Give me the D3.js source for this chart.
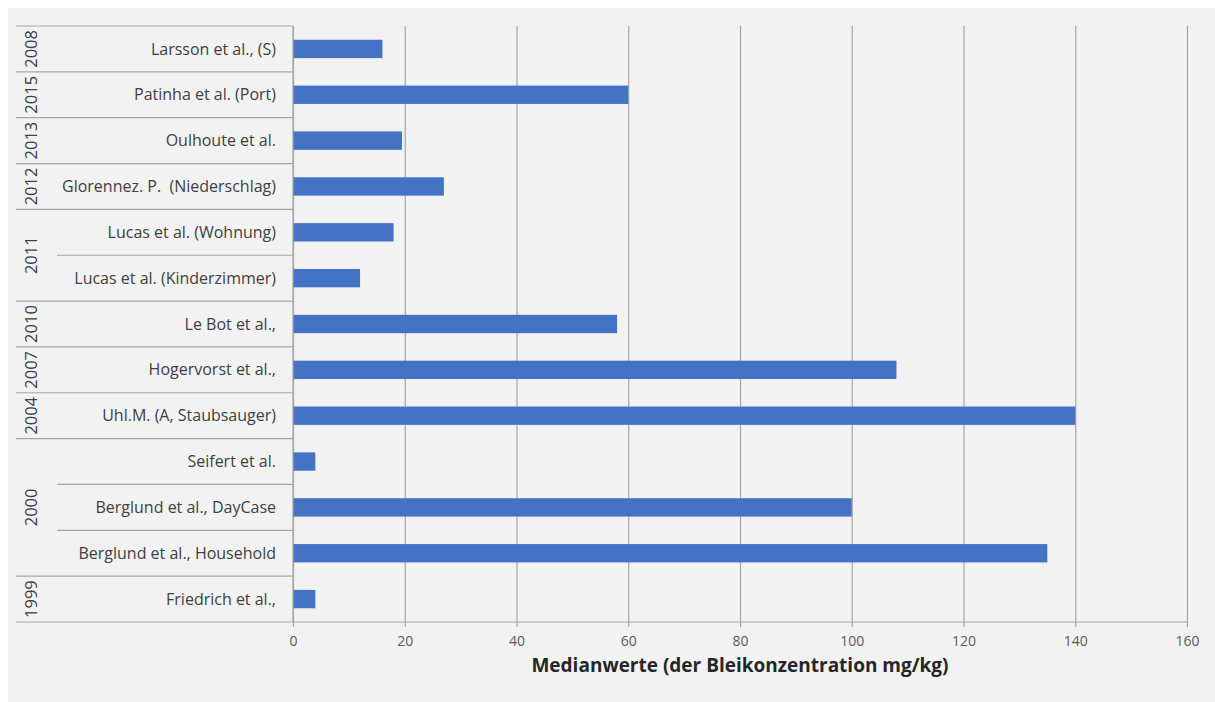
<!DOCTYPE html>
<html>
<head>
<meta charset="utf-8">
<script src="https://cdn.jsdelivr.net/npm/d3@7"></script>
<style>
  html, body { margin: 0; padding: 0; background: #ffffff; }
  svg { display: block; }
  text { white-space: pre; }
</style>
</head>
<body>
<svg id="chart" width="1215" height="702"></svg>
<script>
// ---- data ----
const categories = [
  "Larsson et al., (S)",
  "Patinha et al. (Port)",
  "Oulhoute et al.",
  "Glorennez. P.  (Niederschlag)",
  "Lucas et al. (Wohnung)",
  "Lucas et al. (Kinderzimmer)",
  "Le Bot et al.,",
  "Hogervorst et al.,",
  "Uhl.M. (A, Staubsauger)",
  "Seifert et al.",
  "Berglund et al., DayCase",
  "Berglund et al., Household",
  "Friedrich et al.,"
];
const years = ["2008","2015","2013","2012","2011","2011","2010","2007","2004","2000","2000","2000","1999"];
const values = [16, 60, 19.5, 27, 18, 12, 58, 108, 140, 4, 100, 135, 4];
const xTicks = [0, 20, 40, 60, 80, 100, 120, 140, 160];
const xTitle = "Medianwerte (der Bleikonzentration mg/kg)";

// ---- layout ----
const svg = d3.select("#chart");
const W = 1215, H = 702;
const plot = { left: 293, right: 1187, top: 26, bottom: 622 };
const outerLeft = 16, innerLeft = 57;
const font = "'Open Sans', 'Noto Sans', sans-serif";

svg.append("rect").attr("x", 8).attr("y", 8).attr("width", W - 8).attr("height", H - 8).attr("fill", "#f2f2f2");

const x = d3.scaleLinear().domain([0, 160]).range([plot.left, plot.right]);
const y = d3.scaleBand().domain(categories).range([plot.top, plot.bottom])
  .paddingInner(0.6).paddingOuter(0.3);
const step = y.step();
const rowTop = c => y(c) - step * 0.3;

// gridlines
const grid = svg.append("g").attr("transform", `translate(0,${plot.top})`)
  .call(d3.axisBottom(x).tickValues(xTicks).tickSize(plot.bottom - plot.top + 5).tickFormat(""));
grid.select(".domain").remove();
grid.selectAll(".tick line").attr("stroke", "#a6a6a6").attr("stroke-width", 1.2);

// bars
svg.append("g").selectAll("rect").data(categories).join("rect")
  .attr("x", x(0))
  .attr("y", c => y(c))
  .attr("width", (c, i) => x(values[i]) - x(0))
  .attr("height", y.bandwidth())
  .attr("fill", "#4472c4");

// x axis
const xAxis = svg.append("g").attr("transform", `translate(0,${plot.bottom})`)
  .call(d3.axisBottom(x).tickValues(xTicks).tickSize(5).tickPadding(9));
xAxis.select(".domain").remove();
xAxis.selectAll(".tick line").remove();
xAxis.selectAll(".tick text").attr("font-family", font).attr("font-size", 14).attr("fill", "#595959");

const lineColor = "#a6a6a6";
// bottom axis line
svg.append("line").attr("x1", outerLeft).attr("x2", plot.right)
  .attr("y1", plot.bottom).attr("y2", plot.bottom)
  .attr("stroke", lineColor).attr("stroke-width", 1.2);
// left axis line
svg.append("line").attr("x1", plot.left).attr("x2", plot.left)
  .attr("y1", plot.top).attr("y2", plot.bottom)
  .attr("stroke", lineColor).attr("stroke-width", 1.2);
// top line of category axis
svg.append("line").attr("x1", outerLeft).attr("x2", plot.left)
  .attr("y1", plot.top).attr("y2", plot.top)
  .attr("stroke", lineColor).attr("stroke-width", 1.2);

// row separators
categories.forEach((c, i) => {
  if (i === 0) return;
  const sameYear = years[i] === years[i - 1];
  svg.append("line")
    .attr("x1", sameYear ? innerLeft : outerLeft).attr("x2", plot.left)
    .attr("y1", rowTop(c)).attr("y2", rowTop(c))
    .attr("stroke", lineColor).attr("stroke-width", 1.2);
});

// category labels
svg.append("g").selectAll("text").data(categories).join("text")
  .attr("x", plot.left - 17)
  .attr("y", c => y(c) + y.bandwidth() / 2)
  .attr("dy", "0.35em")
  .attr("text-anchor", "end")
  .attr("font-family", font).attr("font-size", 16).attr("fill", "#404040")
  .text(c => c);

// year groups
const groups = [];
years.forEach((yr, i) => {
  const last = groups[groups.length - 1];
  if (last && last.year === yr) last.end = i;
  else groups.push({ year: yr, start: i, end: i });
});
svg.append("g").selectAll("text").data(groups).join("text")
  .attr("transform", g => {
    const cy = (rowTop(categories[g.start]) + rowTop(categories[g.end]) + step) / 2;
    return `translate(31,${cy}) rotate(-90)`;
  })
  .attr("dy", "0.35em")
  .attr("text-anchor", "middle")
  .attr("font-family", font).attr("font-size", 16.5).attr("fill", "#404040")
  .text(g => g.year);

// x title
svg.append("text")
  .attr("x", (plot.left + plot.right) / 2)
  .attr("y", 672)
  .attr("text-anchor", "middle")
  .attr("font-family", font).attr("font-size", 19).attr("font-weight", "bold")
  .attr("fill", "#262626")
  .text(xTitle);
</script>
</body>
</html>
